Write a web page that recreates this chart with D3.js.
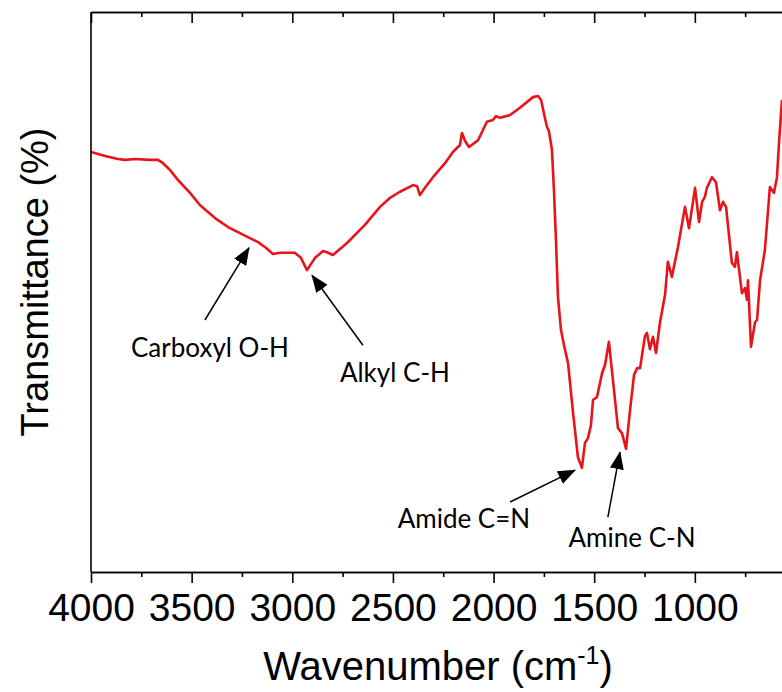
<!DOCTYPE html>
<html>
<head>
<meta charset="utf-8">
<script src="https://cdn.jsdelivr.net/npm/d3@7"></script>
<style>
  html, body { margin: 0; padding: 0; background: #fff; }
  svg { display: block; }
</style>
</head>
<body>
<svg id="chart" width="782" height="692"></svg>
<script>
// ---- Data ----
const wavenumber = [4000,3930,3866,3831,3781,3707,3667,3642,3608,3568,3508,3458,3384,3319,3260,3170,3131,3096,3061,2987,2957,2927,2887,2847,2828,2798,2728,2639,2564,2515,2465,2400,2380,2366,2341,2301,2241,2202,2167,2157,2142,2122,2077,2033,2003,1988,1968,1918,1869,1804,1779,1764,1745,1735,1725,1710,1700,1690,1680,1665,1650,1630,1605,1581,1561,1546,1531,1516,1506,1486,1461,1446,1427,1407,1382,1362,1342,1322,1302,1287,1272,1248,1238,1223,1208,1193,1173,1148,1134,1114,1084,1049,1029,999,979,964,950,940,915,895,875,860,845,816,801,791,766,751,741,736,721,701,691,676,652,627,607,592,582,567];
const transmittance = [75.0,74.3,73.75,73.6,73.75,73.6,73.6,73.0,71.8,70.0,67.7,65.5,63.2,61.6,60.5,58.9,57.9,56.8,57.0,57.0,56.1,53.9,56.1,57.3,57.1,56.6,58.75,62.0,65.2,66.8,67.9,69.1,68.9,67.3,68.6,70.5,73.0,75.0,76.25,78.4,77.0,75.9,77.1,80.4,80.7,81.4,81.1,81.6,82.9,84.8,85.0,84.3,81.1,79.5,78.75,75.4,68.2,59.3,49.1,43.2,40.5,37.3,28.4,20.5,18.6,23.0,23.9,26.25,30.7,31.25,35.5,37.0,41.1,34.3,25.7,24.8,22.0,28.9,35.2,36.4,36.4,42.1,42.7,39.8,42.0,39.1,44.6,49.5,55.4,52.7,58.0,65.2,61.4,68.6,62.5,66.1,67.0,68.6,70.5,69.6,64.6,66.1,65.2,55.2,54.5,57.1,49.8,50.7,48.6,52.1,40.2,44.6,45.0,52.1,57.5,68.75,67.7,70.5,76.6,84.3];
const majorTicks = [4000,3500,3000,2500,2000,1500,1000];
const minorTicks = [3750,3250,2750,2250,1750,1250,750];
const tickLabels = ["4000","3500","3000","2500","2000","1500","1000"];
const annotLabels = ["Carboxyl O-H","Alkyl C-H","Amide C=N","Amine C-N"];
const annotTipWn = [3215,2902,1595,1372];
const annotTipT = [57.9,53.0,18.2,21.4];
const annotTailWn = [3434,2649,1918,1432];
const annotTailT = [45.0,40.5,12.5,9.8];
const annotTextWn = [3409,2490,2147,1312];
const annotTextT = [38.4,33.9,7.9,4.5];

// ---- Layout ----
const svg = d3.select("#chart");
const mLeft = 91, mRight = 782, mTop = 12, mBottom = 572;
const x = d3.scaleLinear().domain([4000, 567]).range([mLeft, mRight]);
const y = d3.scaleLinear().domain([0, 100]).range([mBottom, mTop]);

const defs = svg.append("defs");
defs.append("clipPath").attr("id","plotclip")
  .append("rect").attr("x", mLeft).attr("y", mTop).attr("width", mRight-mLeft).attr("height", mBottom-mTop);

defs.append("marker")
  .attr("id","arrowhead")
  .attr("markerUnits","userSpaceOnUse")
  .attr("viewBox","0 0 18 14")
  .attr("refX",17).attr("refY",7)
  .attr("markerWidth",18).attr("markerHeight",14)
  .attr("orient","auto")
  .append("path").attr("d","M0,0 L18,7 L0,14 Z").attr("fill","#000");

// curve
const data = wavenumber.map((w,i)=>({w, t: transmittance[i]}));
const line = d3.line().x(d=>x(d.w)).y(d=>y(d.t));
svg.append("path")
  .datum(data)
  .attr("clip-path","url(#plotclip)")
  .attr("d", line)
  .attr("fill","none")
  .attr("stroke","#e8141b")
  .attr("stroke-width",2.6)
  .attr("stroke-linejoin","round");

// axes: bottom (outward ticks)
const axisColor = "#000";
const gB = svg.append("g").attr("transform",`translate(0,${mBottom})`);
gB.call(d3.axisBottom(x).tickValues(majorTicks).tickSize(11).tickFormat((d,i)=>tickLabels[i]).tickSizeOuter(0));
gB.append("g").call(d3.axisBottom(x).tickValues(minorTicks).tickSize(5).tickFormat("").tickSizeOuter(0));
gB.selectAll("path.domain").attr("stroke",axisColor).attr("stroke-width",1.6);
gB.selectAll(".tick line").attr("stroke",axisColor).attr("stroke-width",1.6);
gB.selectAll(".tick text")
  .attr("font-family","'Liberation Sans', Arial, sans-serif")
  .attr("text-anchor","middle")
  .attr("font-size",39).attr("fill","#000").attr("dy",null).attr("x",0).attr("y",49);

// top (inward ticks)
const gT = svg.append("g").attr("transform",`translate(0,${mTop})`);
gT.call(d3.axisBottom(x).tickValues(majorTicks).tickSize(11).tickFormat("").tickSizeOuter(0));
gT.append("g").call(d3.axisBottom(x).tickValues(minorTicks).tickSize(5).tickFormat("").tickSizeOuter(0));
gT.selectAll("path.domain").attr("stroke",axisColor).attr("stroke-width",1.6);
gT.selectAll(".tick line").attr("stroke",axisColor).attr("stroke-width",1.6);

// left axis line (no ticks)
svg.append("line").attr("x1",mLeft).attr("x2",mLeft).attr("y1",mTop).attr("y2",mBottom)
  .attr("stroke",axisColor).attr("stroke-width",1.6);

// axis titles
const xt = svg.append("text")
  .attr("x", 438).attr("y", 680)
  .attr("text-anchor","middle")
  .attr("font-family","'Liberation Sans', Arial, sans-serif")
  .attr("font-size",40).attr("fill","#000");
xt.append("tspan").text("Wavenumber (cm");
xt.append("tspan").attr("font-size",25).attr("dy",-16).text("-1");
xt.append("tspan").attr("dy",16).text(")");

svg.append("text")
  .attr("transform","translate(48,282) rotate(-90)")
  .attr("text-anchor","middle")
  .attr("font-family","'Liberation Sans', Arial, sans-serif")
  .attr("font-size",38).attr("fill","#000")
  .text("Transmittance (%)");

// annotations
const ann = svg.append("g");
annotLabels.forEach((lab,i)=>{
  ann.append("line")
    .attr("x1", x(annotTailWn[i])).attr("y1", y(annotTailT[i]))
    .attr("x2", x(annotTipWn[i])).attr("y2", y(annotTipT[i]))
    .attr("stroke","#000").attr("stroke-width",1.5)
    .attr("marker-end","url(#arrowhead)");
  ann.append("text")
    .attr("x", x(annotTextWn[i])).attr("y", y(annotTextT[i]))
    .attr("text-anchor","middle")
    .attr("font-family","Lato, 'Open Sans', sans-serif")
    .attr("font-size",26).attr("fill","#000")
    .text(lab);
});
</script>
</body>
</html>
